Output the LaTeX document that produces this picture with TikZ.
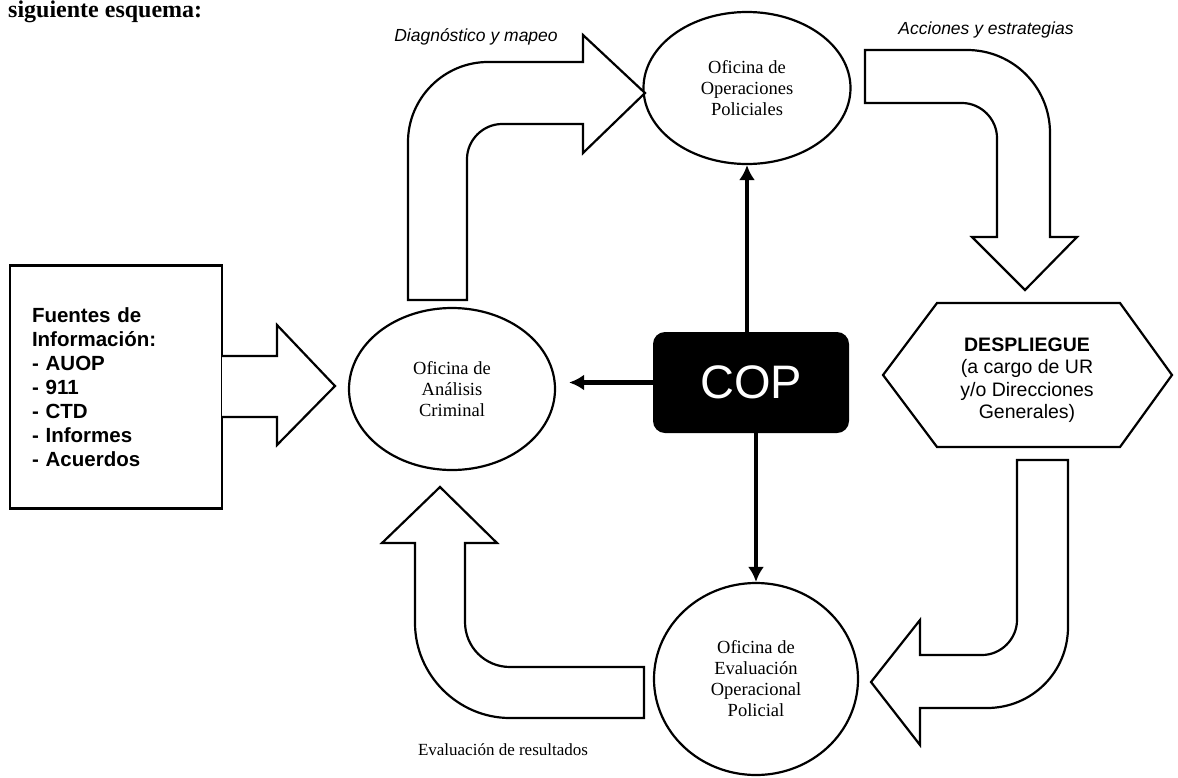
\documentclass[tikz,border=0pt]{standalone}
\usepackage{fontspec}
\setmainfont{Liberation Serif}
\setsansfont{Liberation Sans}
\usetikzlibrary{arrows.meta}
\usetikzlibrary{shapes.geometric}

\begin{document}
\begin{tikzpicture}[x=1pt,y=-1pt]
\tikzset{>={Latex[width=16pt,length=15pt]}}
\tikzstyle{oficina}=[ellipse,draw,line width=2.2pt,inner sep=0pt,align=center,font=\fontsize{18.5}{21}\selectfont]
\tikzstyle{bloque}=[draw,line width=2.2pt,fill=white,line join=miter]
\tikzstyle{rotulo}=[font=\sffamily\itshape\fontsize{17.5}{20}\selectfont,inner sep=0pt]
\tikzstyle{enlace}=[->,line width=4.5pt]

\useasboundingbox (0,0) rectangle (1178,777);

% texto del documento, arriba
\node[anchor=north west,inner sep=0pt,font=\bfseries\fontsize{24}{26}\selectfont] (encabezado) at (8,1) {siguiente esquema:};

\node[draw,line width=2.2pt,minimum height=243pt,text width=168pt,inner xsep=22pt,align=left,
  font=\sffamily\bfseries\fontsize{20.5}{24}\selectfont] (fuentes) at (116,387)
  {Fuentes de\\Información:\\- AUOP\\- 911\\- CTD\\- Informes\\- Acuerdos};

\node[oficina,minimum width=206pt,minimum height=162pt](analisis) at (452,389) {Oficina de\\Análisis\\Criminal};
\node[oficina,minimum width=207pt,minimum height=152pt](operaciones) at (747,88) {Oficina de\\Operaciones\\Policiales};
\node[oficina,minimum width=204pt,minimum height=192pt](evaluacion) at (756,679) {Oficina de\\Evaluación\\Operacional\\Policial};

\node[fill=black,rounded corners=12pt,minimum width=196pt,minimum height=101pt,text=white,
  font=\sffamily\fontsize{47}{50}\selectfont](cop) at (751,382.5) {COP};

% despliegue
\draw[bloque] (883,375) -- (937,303) -- (1120,303) -- (1172,375) -- (1120,447) -- (937,447) -- cycle;
\node[align=center,font=\sffamily\fontsize{19.5}{22.5}\selectfont](despliegue) at (1027,380)
  {\textbf{DESPLIEGUE}\\(a cargo de UR\\y/o Direcciones\\Generales)};

% flechas de bloque
\draw[bloque] (222,356) -- (277,356) -- (277,325) -- (335,386) -- (277,445) -- (277,417) -- (222,417);
\draw[bloque] (408,300) -- (408,142) .. controls (408,98) and (444,62) .. (488,62) -- (583,62) -- (583,35)
  -- (645,93) -- (583,153) -- (583,124) -- (502,124) .. controls (483,124) and (467,140) .. (467,159)
  -- (467,300) -- cycle;
\draw[bloque] (865,50) -- (967,50) .. controls (1013,50) and (1050,87) .. (1050,133) -- (1050,237)
  -- (1077,237) -- (1025,290) -- (972,237) -- (997,237) -- (997,138) .. controls (997,119) and (981,103) .. (962,103)
  -- (865,103) -- cycle;
\draw[bloque] (1017,460) -- (1068,460) -- (1068,627) .. controls (1068,672) and (1032,708) .. (987,708)
  -- (920,708) -- (920,745) -- (871,682) -- (920,620) -- (920,655) -- (982,655)
  .. controls (1001,655) and (1017,639) .. (1017,620) -- cycle;
\draw[bloque] (644,667) -- (510,667) .. controls (485,667) and (465,647) .. (465,622) -- (465,543)
  -- (497,543) -- (440,487) -- (382,543) -- (415,543) -- (415,623) .. controls (415,675) and (458,718) .. (510,718)
  -- (644,718) -- cycle;

\node[rotulo](diagnostico) at (476,37) {Diagnóstico y mapeo};
\node[rotulo](acciones) at (986,30) {Acciones y estrategias};
\node[inner sep=0pt,font=\fontsize{17}{20}\selectfont](resultados) at (503,750) {Evaluación de resultados};

\draw[enlace,shorten >=13pt] (cop.west) -- (cop.west -| analisis.east);
\draw[enlace] (cop.north -| operaciones.south) -- (operaciones.south);
\draw[enlace] (cop.south -| evaluacion.north) -- (evaluacion.north);
\end{tikzpicture}
\end{document}
